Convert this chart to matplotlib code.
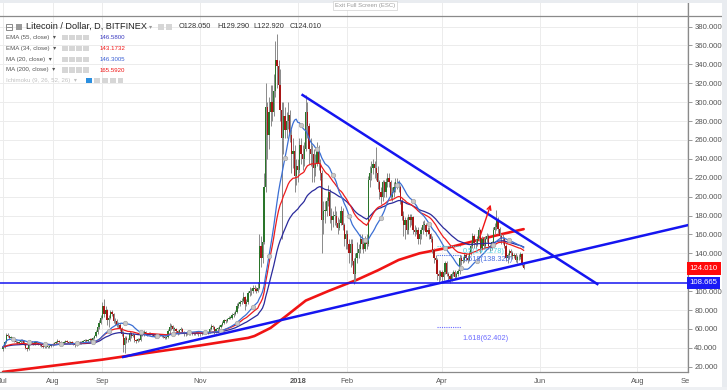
import numpy as np
import pandas as pd
import matplotlib
matplotlib.use('Agg')
import matplotlib.pyplot as plt
import matplotlib.dates as mdates
from matplotlib.patches import Rectangle
from matplotlib.lines import Line2D
from matplotlib.transforms import blended_transform_factory

plt.rcParams['font.family'] = ['Liberation Sans', 'DejaVu Sans']

# ---- daily LTC/USD candles, first bar 2017-07-01 ----
start = '2017-07-01'
first_open = 39

close_jul = [41, 46, 54, 53, 50, 51, 49, 47, 46, 45, 46, 48, 47, 44, 40, 39, 44, 46, 45, 44, 46, 45, 44, 43, 42, 41, 42, 41, 41, 42, 43]
high_jul = [42, 47, 56, 56, 54, 52, 51, 50, 48, 47, 47, 49, 49, 48, 45, 41, 45, 48, 47, 46, 47, 47, 46, 45, 44, 43, 43, 43, 42, 43, 44]
low_jul = [37, 40, 45, 51, 49, 49, 48, 46, 45, 44, 44, 45, 46, 43, 39, 37, 38, 43, 44, 43, 43, 44, 43, 42, 41, 40, 40, 40, 40, 40, 41]

close_aug = [44, 45, 46, 47, 46, 45, 45, 46, 47, 46, 45, 46, 45, 44, 43, 45, 46, 45, 46, 47, 48, 47, 48, 49, 48, 50, 52, 57, 62, 66, 72]
high_aug = [45, 46, 47, 49, 48, 47, 46, 47, 48, 48, 47, 47, 47, 46, 45, 46, 47, 47, 47, 48, 49, 49, 49, 50, 50, 51, 54, 59, 64, 69, 75]
low_aug = [42, 43, 44, 45, 45, 44, 44, 44, 45, 45, 44, 44, 44, 43, 41, 42, 44, 44, 44, 45, 46, 46, 46, 47, 47, 47, 49, 51, 55, 60, 65]

close_sep = [84, 76, 80, 69, 72, 78, 76, 68, 68, 64, 64, 60, 55, 43, 50, 48, 48, 56, 52, 54, 48, 47, 49, 48, 54, 54, 57, 55, 55, 56]
high_sep = [88, 92, 84, 81, 75, 80, 80, 77, 72, 70, 67, 66, 62, 58, 52, 52, 50, 58, 57, 56, 55, 49, 50, 50, 56, 56, 59, 58, 56, 57]
low_sep = [70, 73, 74, 64, 62, 70, 74, 66, 64, 62, 61, 58, 52, 36, 35, 45, 46, 47, 50, 51, 46, 45, 46, 47, 47, 52, 53, 54, 53, 54]

close_oct = [55, 54, 52, 52, 53, 53, 54, 52, 51, 50, 51, 58, 62, 63, 60, 60, 58, 56, 59, 60, 57, 55, 55, 55, 56, 55, 56, 55, 56, 56, 55]
high_oct = [57, 56, 55, 54, 54, 54, 55, 55, 53, 52, 53, 60, 66, 65, 64, 62, 61, 59, 60, 62, 61, 58, 57, 57, 57, 57, 57, 57, 57, 58, 57]
low_oct = [54, 53, 51, 50, 51, 52, 52, 51, 50, 49, 49, 50, 56, 59, 58, 58, 56, 54, 55, 58, 56, 53, 53, 54, 54, 54, 54, 54, 54, 55, 53]

close_nov = [55, 56, 57, 56, 56, 57, 60, 63, 62, 58, 60, 60, 62, 64, 66, 69, 68, 71, 72, 72, 75, 76, 78, 84, 86, 88, 90, 94, 86, 88]
high_nov = [57, 57, 58, 58, 57, 58, 62, 65, 64, 63, 61, 62, 64, 65, 68, 71, 70, 72, 74, 74, 77, 78, 80, 87, 89, 91, 93, 99, 95, 92]
low_nov = [53, 54, 55, 55, 55, 55, 56, 59, 60, 55, 56, 57, 59, 61, 63, 65, 66, 67, 70, 70, 71, 73, 75, 77, 82, 84, 86, 88, 80, 84]

close_dec = [98, 100, 100, 103, 102, 100, 103, 148, 135, 152, 210, 295, 265, 290, 300, 290, 312, 345, 338, 318, 292, 262, 285, 270, 280, 286, 265, 245, 248, 222, 232]
high_dec = [100, 104, 103, 106, 106, 104, 110, 160, 158, 165, 225, 320, 300, 305, 318, 318, 330, 365, 372, 345, 335, 300, 300, 295, 290, 300, 292, 272, 262, 255, 240]
low_dec = [86, 95, 96, 98, 100, 98, 99, 102, 125, 130, 150, 205, 240, 250, 275, 280, 285, 305, 315, 300, 280, 155, 245, 262, 262, 272, 258, 225, 230, 205, 212]

close_jan = [228, 255, 245, 240, 250, 290, 275, 250, 245, 245, 230, 235, 250, 235, 225, 175, 185, 185, 195, 205, 180, 175, 180, 180, 172, 167, 172, 185, 170, 155, 160]
high_jan = [240, 262, 262, 255, 258, 308, 300, 278, 262, 255, 250, 245, 258, 255, 240, 228, 195, 195, 200, 212, 208, 188, 185, 190, 185, 178, 176, 190, 188, 172, 165]
low_jan = [215, 225, 235, 228, 232, 248, 262, 235, 232, 215, 215, 222, 232, 228, 218, 140, 160, 172, 180, 190, 172, 165, 168, 170, 168, 160, 165, 170, 165, 148, 145]

close_feb = [150, 140, 150, 132, 118, 135, 140, 145, 155, 150, 145, 155, 150, 218, 225, 230, 235, 230, 225, 215, 205, 200, 215, 205, 215, 220, 215, 200]
high_feb = [165, 155, 155, 155, 135, 140, 152, 150, 160, 160, 155, 158, 160, 222, 232, 238, 240, 238, 253, 232, 218, 210, 218, 218, 220, 225, 225, 218]
low_feb = [145, 130, 125, 128, 108, 110, 130, 135, 140, 145, 140, 142, 145, 148, 210, 218, 224, 220, 218, 208, 198, 192, 195, 200, 200, 210, 210, 198]

close_mar = [205, 210, 215, 215, 210, 195, 180, 170, 175, 165, 178, 175, 178, 165, 163, 165, 155, 160, 165, 170, 170, 163, 165, 160, 155, 143, 135, 133, 118, 116, 120]
high_mar = [210, 215, 220, 220, 218, 212, 198, 185, 178, 178, 182, 182, 182, 180, 170, 168, 168, 162, 168, 174, 175, 172, 168, 168, 162, 158, 146, 138, 135, 122, 122]
low_mar = [195, 200, 205, 208, 205, 192, 175, 158, 155, 160, 160, 168, 170, 160, 158, 160, 150, 150, 155, 160, 165, 158, 160, 155, 152, 140, 130, 125, 112, 110, 112]

close_apr = [115, 120, 130, 118, 116, 113, 118, 120, 115, 118, 121, 135, 132, 133, 138, 135, 133, 140, 148, 158, 151, 150, 155, 165, 145, 155, 148, 155, 158, 148]
high_apr = [122, 122, 132, 132, 120, 118, 120, 122, 122, 120, 123, 138, 138, 136, 140, 140, 138, 142, 152, 162, 160, 155, 158, 168, 166, 158, 157, 158, 162, 160]
low_apr = [110, 112, 118, 116, 112, 109, 111, 116, 113, 113, 116, 118, 128, 130, 131, 132, 130, 132, 138, 146, 146, 146, 148, 153, 140, 143, 145, 146, 152, 145]

close_may = [146, 152, 165, 168, 175, 166, 158, 155, 155, 148, 135, 138, 142, 140, 137, 138, 133, 136, 136, 139, 128.05, 124.01]
high_may = [150, 153, 168, 172, 186, 178, 168, 160, 160, 157, 150, 140, 145, 145, 142, 140, 140, 138, 139, 141, 140, 129.29]
low_may = [142, 144, 150, 160, 165, 162, 155, 150, 150, 146, 132, 130, 134, 136, 134, 135, 131, 130, 133, 134, 127, 122.92]

# MA(200) (history before July is not on screen)
ma200_dates = ['2017-07-01', '2017-08-01', '2017-09-01', '2017-10-01', '2017-11-01', '2017-12-01',
               '2017-12-05', '2017-12-15', '2017-12-25', '2018-01-06', '2018-01-20', '2018-02-07',
               '2018-02-20', '2018-03-05', '2018-03-18', '2018-04-05', '2018-04-20', '2018-05-05', '2018-05-22']
ma200_vals = [14.5, 21.0, 27.5, 35.0, 42.5, 50.5, 52.5, 61.0, 74.0, 90.0, 100.0, 112.0,
              122.0, 133.0, 140.0, 146.0, 152.5, 159.0, 165.59]

# drawings
support = 108.665
down_dates = ['2018-01-04', '2018-07-07']
down_vals = [307.5, 107.5]
up_dates = ['2017-09-14', '2018-09-02']
up_vals = [30.3, 170.0]
arrow_dates = ['2018-04-24', '2018-05-02']
arrow_vals = [154.0, 194.3]
fib_labels = ['0.5(147.278)', '0.618(138.320)', '1.618(62.402)']
fib_vals = [147.278, 138.320, 62.402]
fib_colors = ['#4dd2e4', '#4a6ee0', '#6b6bff']
fib_span = ['2018-03-29', '2018-04-13']

month_ticks = ['2017-07-01', '2017-08-01', '2017-09-01', '2017-11-01', '2018-01-01',
               '2018-02-01', '2018-04-01', '2018-06-01', '2018-08-01', '2018-09-01']
month_labels = ['Jul', 'Aug', 'Sep', 'Nov', '2018', 'Feb', 'Apr', 'Jun', 'Aug', 'Sep']

legend_names = ['EMA (55, close)', 'EMA (34, close)', 'MA (20, close)', 'MA (200, close)']
legend_values = ['146.5800', '143.1732', '146.3005', '165.5920']
ohlc_text = ['O128.050', 'H129.290', 'L122.920', 'C124.010']

# ---- assemble ----
close = np.array(close_jul + close_aug + close_sep + close_oct + close_nov + close_dec +
                 close_jan + close_feb + close_mar + close_apr + close_may, dtype=float)
high = np.array(high_jul + high_aug + high_sep + high_oct + high_nov + high_dec +
                high_jan + high_feb + high_mar + high_apr + high_may, dtype=float)
low = np.array(low_jul + low_aug + low_sep + low_oct + low_nov + low_dec +
               low_jan + low_feb + low_mar + low_apr + low_may, dtype=float)
opens = np.concatenate([[first_open], close[:-1]])
high = np.maximum(high, np.maximum(opens, close))
low = np.minimum(low, np.minimum(opens, close))
dates = pd.date_range(start, periods=len(close), freq='D')
x = mdates.date2num(dates)

s = pd.Series(close)
ema55 = s.ewm(span=55, adjust=False).mean()
ema34 = s.ewm(span=34, adjust=False).mean()
ma20 = s.rolling(20, min_periods=1).mean()

W, H = 727, 390
def fx(px):
    return px / W
def fy(py):
    return 1 - py / H

fig = plt.figure(figsize=(7.27, 3.90), dpi=100)
fig.patch.set_facecolor('white')
ax = fig.add_axes([0, fy(372), fx(688), fy(3) - fy(372)])

t0 = mdates.date2num(pd.Timestamp(start))
ax.set_xlim(t0 - 1.87, t0 + 427.6)
ax.set_ylim(14.4, 404.9)

# MA200 under the candles
ax.plot(mdates.date2num(pd.to_datetime(ma200_dates)), ma200_vals, color='#f01414', lw=1.9, zorder=2,
        solid_capstyle='round')

# candles
up = close >= opens
wick_c = '#8a8a8a'
ax.vlines(x, low, high, color=wick_c, lw=0.7, zorder=3)
body_lo = np.minimum(opens, close)
body_h = np.maximum(np.abs(close - opens), 0.6)
ax.bar(x[up], body_h[up], bottom=body_lo[up], width=0.8, color='#2a752a', lw=0, zorder=4)
ax.bar(x[~up], body_h[~up], bottom=body_lo[~up], width=0.8, color='#a81616', lw=0, zorder=4)

# moving averages
ax.plot(x, ema55, color='#2a2a9c', lw=0.9, zorder=5)
ax.plot(x, ema34, color='#ee1c1c', lw=0.9, zorder=5)
ax.plot(x, ma20, color='#3b6fd4', lw=0.9, zorder=5, marker='o', markevery=(6, 10),
        ms=3.2, mfc='#c9c9c9', mec='#a5a5a5', mew=0.5)

# drawings
ax.axhline(support, color='#1515f0', lw=1.1, zorder=6)
ax.plot(mdates.date2num(pd.to_datetime(down_dates)), down_vals, color='#1515f0', lw=1.8, zorder=6)
ax.plot(mdates.date2num(pd.to_datetime(up_dates)), up_vals, color='#1515f0', lw=1.8, zorder=6)
ad = mdates.date2num(pd.to_datetime(arrow_dates))
ax.annotate('', xy=(ad[1], arrow_vals[1]), xytext=(ad[0], arrow_vals[0]),
            arrowprops=dict(arrowstyle='->', color='#f01414', lw=1.0, mutation_scale=7), zorder=7)
fs = mdates.date2num(pd.to_datetime(fib_span))
for i, (lab, v, col) in enumerate(zip(fib_labels, fib_vals, fib_colors)):
    ax.plot(fs, [v, v], color=col, lw=0.8, ls=(0, (1, 1)), zorder=6)
    dy = -1 if i < 2 else -6
    ax.annotate(lab, xy=(fs[1], v), xytext=(1, dy), textcoords='offset points',
                color=col, fontsize=5.3, ha='left', va='top', zorder=7)

# axes styling
for side in ['left', 'top']:
    ax.spines[side].set_visible(False)
for side in ['right', 'bottom']:
    ax.spines[side].set_color('#8a8a8a')
    ax.spines[side].set_linewidth(0.9)
yt = np.arange(20, 381, 20)
ax.set_yticks(yt)
# the 120 label sits under the last-price tag on the scale
ax.set_yticklabels(['' if v == 120 else '%.3f' % v for v in yt])
ax.tick_params(axis='y', left=False, labelleft=False, right=True, labelright=True,
               length=3, width=0.6, color='#8a8a8a', labelsize=5.6, labelcolor='#555555', pad=1.5)
ax.set_xticks(mdates.date2num(pd.to_datetime(month_ticks)))
ax.set_xticklabels(month_labels)
ax.tick_params(axis='x', length=0, pad=4, labelsize=5.4, labelcolor='#555555')
for lbl in ax.get_xticklabels():
    if lbl.get_text() == '2018':
        lbl.set_fontweight('bold')
ax.grid(True, color='#ececec', lw=0.7, zorder=0)
ax.set_axisbelow(True)

# price labels on the scale
tr = blended_transform_factory(ax.transAxes, ax.transData)
ax.text(1.0025, close[-1], '124.010', transform=tr, color='white', fontsize=5.6, ha='left', va='center',
        zorder=10, clip_on=False, bbox=dict(boxstyle='square,pad=0.35', fc='#ff0a0a', ec='none'))
ax.text(1.0025, support, '108.665', transform=tr, color='white', fontsize=5.6, ha='left', va='center',
        zorder=10, clip_on=False, bbox=dict(boxstyle='square,pad=0.35', fc='#1a1af5', ec='none'))

# top line and frame pieces
fig.add_artist(Line2D([0, 1], [fy(16), fy(16)], color='#8a8a8a', lw=0.9))
fig.add_artist(Rectangle((fx(688.6), 0), fx(727) - fx(688.6), fy(373), fc='white', ec='none', zorder=5))
fig.add_artist(Rectangle((fx(722), 0), fx(5), 1, fc='#e9ecf0', ec='none', zorder=6))
fig.add_artist(Rectangle((0, fy(3)), 1, 3 / H, fc='#e9ecf0', ec='none', zorder=6))
fig.add_artist(Rectangle((0, 0), 1, 3 / H, fc='#eef0f3', ec='none', zorder=6))
fig.text(fx(365), fy(5.5), 'Exit Full Screen (ESC)', fontsize=4.3, color='#9a9a9a', ha='center', va='center',
         zorder=8, bbox=dict(boxstyle='square,pad=0.3', fc='white', ec='#d0d0d0', lw=0.5))

# header legend
fig.add_artist(Rectangle((fx(6), fy(29.5)), fx(6), 6 / H, fc='white', ec='#777777', lw=0.6, zorder=8))
fig.add_artist(Line2D([fx(7.3), fx(10.7)], [fy(26.7), fy(26.7)], color='#777777', lw=0.6, zorder=9))
fig.add_artist(Rectangle((fx(16), fy(29.5)), fx(6), 6 / H, fc='#9a9a9a', ec='none', zorder=8))
fig.text(fx(26), fy(26.7), 'Litecoin / Dollar, D, BITFINEX', fontsize=6.6, color='#222222', va='center', zorder=9)
fig.text(fx(149), fy(26.5), '\u25be', fontsize=4.5, color='#999999', va='center', zorder=9)
for bx in [158, 166]:
    fig.add_artist(Rectangle((fx(bx), fy(29.5)), fx(6), 6 / H, fc='#d6d6d6', ec='none', zorder=8))
for t, px in zip(ohlc_text, [179, 217, 253, 290]):
    fig.text(fx(px), fy(26.7), t, fontsize=5.3, color='#333333', va='center', zorder=9)

row_y = [37.7, 48.7, 59.3, 70.0]
val_colors = ['#3a3ac0', '#f01414', '#3b5fd4', '#f01414']
for name, val, col, py in zip(legend_names, legend_values, val_colors, row_y):
    fig.text(fx(6), fy(py), name + '  \u25be', fontsize=4.4, color='#555555', va='center', zorder=9)
    for bx in [62, 69, 76, 83]:
        fig.add_artist(Rectangle((fx(bx), fy(py + 2.7)), fx(5.5), 5.5 / H, fc='#d6d6d6', ec='none', zorder=8))
    fig.text(fx(100), fy(py), val, fontsize=4.4, color=col, va='center', zorder=9)
fig.text(fx(6), fy(80.7), 'Ichimoku (9, 26, 52, 26)  \u25be', fontsize=4.4, color='#c0c0c0', va='center', zorder=9)
for i, bx in enumerate([86, 94, 102, 110, 118]):
    fig.add_artist(Rectangle((fx(bx), fy(83.4)), fx(5.5), 5.5 / H,
                             fc='#2a8fe0' if i == 0 else '#d6d6d6', ec='none', zorder=8))

fig.savefig('out.png', dpi=100, facecolor='white')
